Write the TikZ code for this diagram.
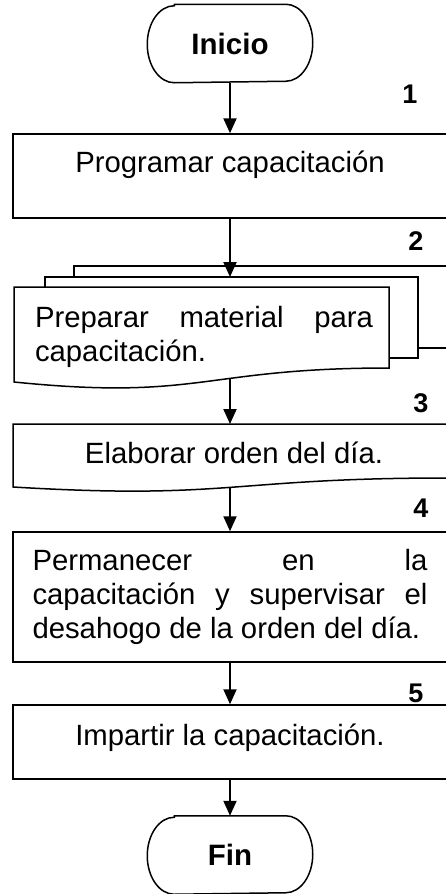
\documentclass[tikz,border=0pt]{standalone}
\usepackage{fontspec}
\setmainfont{Liberation Sans}
\usetikzlibrary{arrows.meta}

\begin{document}
\begin{tikzpicture}[x=1pt,y=-1pt,line width=1.5pt,
    texto/.style={font=\fontsize{29.3}{34}\selectfont},
    terminal/.style={font=\fontsize{29.5}{34}\selectfont\bfseries,minimum width=164pt,minimum height=77pt},
    borde/.style={x radius=27pt,y radius=38.5pt},
    proceso/.style={draw,texto,minimum width=434pt,inner sep=0pt},
    paso/.style={font=\fontsize{27}{30}\selectfont\bfseries,inner sep=0pt},
    flecha/.style={-{Triangle[length=15pt,width=13pt]},line width=2pt}]
    \useasboundingbox (0,0) rectangle (445,894);

    \node[terminal] (ini) at (230,43.5) {Inicio};
    \draw ([xshift=27pt]ini.north west) -- ([xshift=-27pt]ini.north east) arc[borde,start angle=90,end angle=-90]
        -- ([xshift=27pt]ini.south west) arc[borde,start angle=270,end angle=90] -- cycle;
    \node[proceso,anchor=base,text height=38pt,text depth=46pt] (prog) at (230,172) {Programar capacitación};

    \draw (74,277) -- (74,266) -- (448,266) -- (448,348) -- (418,348);
    \draw (45,287) -- (45,277) -- (418,277) -- (418,358) -- (389,358);
    \draw[fill=white] (14,287) -- (389,287) -- (389,368) .. controls (201.5,368) and (201.5,401) .. (14,382) -- cycle;
    \node[texto,text width=338pt,align=justify,inner sep=0pt] (mat) at (204,337) {Preparar material para\linebreak capacitación.};
    \coordinate (mat-t) at (230,277);
    \coordinate (mat-b) at (230,379);

    \draw (13,424) -- (447,424) -- (447,478) .. controls (230,478) and (230,500) .. (13,487) -- cycle;
    \node[texto,anchor=base,inner sep=0pt] (ord) at (234,463) {Elaborar orden del día.};
    \coordinate (ord-t) at (230,424);
    \coordinate (ord-b) at (230,488);

    \node[proceso,text width=395pt,inner xsep=19.5pt,align=justify,minimum height=130pt] (perm) at (230,597) {Permanecer en la\linebreak capacitación y supervisar el\linebreak desahogo de la orden del día.};
    \node[proceso,anchor=base,text height=40pt,text depth=34pt] (imp) at (230,745) {Impartir la capacitación.};
    \node[terminal] (fin) at (230,855) {Fin};
    \draw ([xshift=27pt]fin.north west) -- ([xshift=-27pt]fin.north east) arc[borde,start angle=90,end angle=-90]
        -- ([xshift=27pt]fin.south west) arc[borde,start angle=270,end angle=90] -- cycle;

    \node[paso,anchor=base] (p1) at (410,103) {1};
    \node[paso,anchor=base] (p2) at (416,250) {2};
    \node[paso,anchor=base] (p3) at (421,412) {3};
    \node[paso,anchor=base] (p4) at (421,517) {4};
    \node[paso,anchor=base] (p5) at (416,702) {5};

    \draw[flecha] (ini) -- (prog);
    \draw[flecha] (prog) -- (mat-t);
    \draw[flecha] (mat-b) -- (ord-t);
    \draw[flecha] (ord-b) -- (perm);
    \draw[flecha] (perm) -- (imp);
    \draw[flecha] (imp) -- (fin);

\end{tikzpicture}
\end{document}
